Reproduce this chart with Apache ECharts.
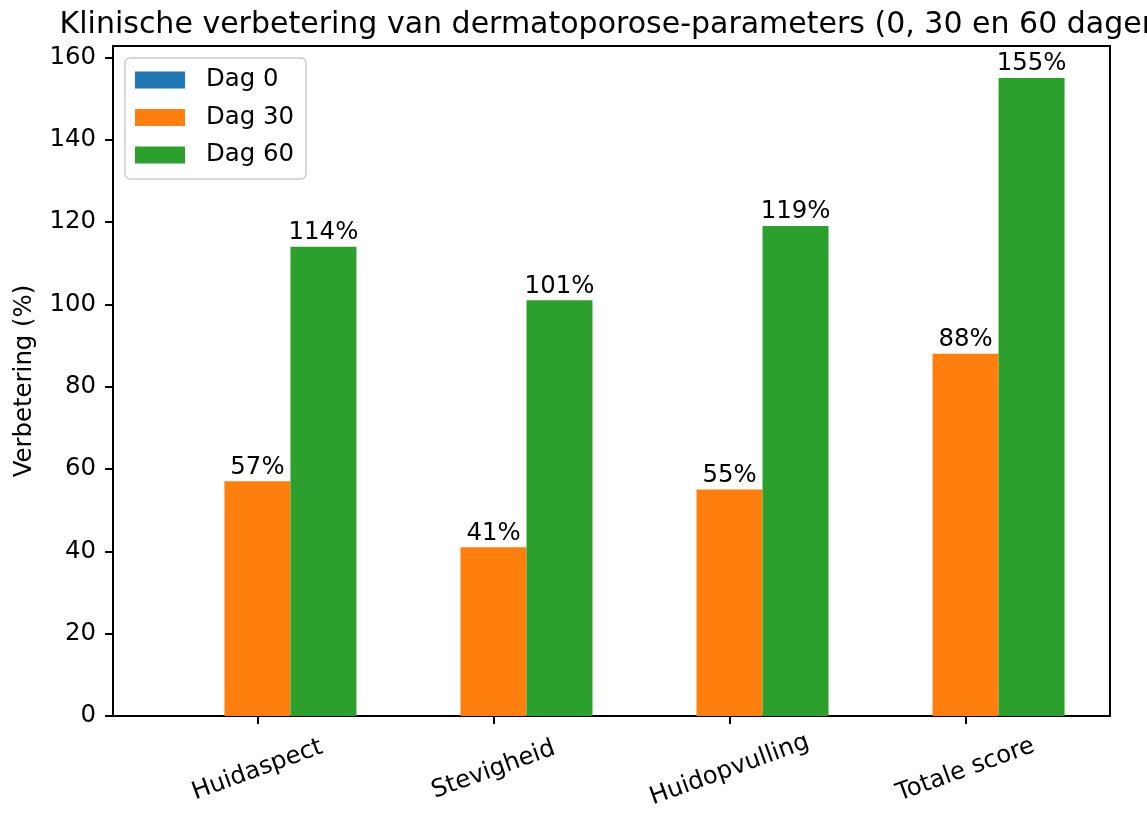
<!DOCTYPE html>
<html>
<head>
<meta charset="utf-8">
<script src="https://cdn.jsdelivr.net/npm/echarts@6/dist/echarts.min.js"></script>
<style>
  html, body { margin: 0; padding: 0; background: #fff; }
  #main { width: 1147px; height: 813px; }
</style>
</head>
<body>
<div id="main"></div>
<script>
  // categorieën en waarden
  var categories = ['Huidaspect', 'Stevigheid', 'Huidopvulling', 'Totale score'];
  var seriesNames = ['Dag 0', 'Dag 30', 'Dag 60'];
  var dag0 = [0, 0, 0, 0];
  var dag30 = [57, 41, 55, 88];
  var dag60 = [114, 101, 119, 155];
  var yTicks = [0, 20, 40, 60, 80, 100, 120, 140, 160];
  var xTicks = [0, 1, 2, 3];

  var font = 'DejaVu Sans';
  var fs = 24.4;
  var chart = echarts.init(document.getElementById('main'));

  function toPairs(arr) {
    return arr.map(function (v, i) { return [i, v]; });
  }

  function barSeries(name, values, color, showLabel) {
    return {
      name: name,
      type: 'bar',
      data: toPairs(values),
      barWidth: 66,
      barGap: '0%',
      itemStyle: { color: color },
      label: {
        show: showLabel,
        position: 'top',
        distance: 2,
        color: '#000',
        fontFamily: font,
        fontSize: fs,
        formatter: function (p) { return p.value[1] + '%'; }
      }
    };
  }

  var option = {
    animation: false,
    title: {
      text: 'Klinische verbetering van dermatoporose-parameters (0, 30 en 60 dagen)',
      left: 611,
      textAlign: 'center',
      top: 5,
      textStyle: { fontFamily: font, fontSize: 30, fontWeight: 'normal', color: '#000' }
    },
    legend: {
      data: seriesNames,
      orient: 'vertical',
      left: 125,
      top: 58,
      padding: [10, 12, 12, 10],
      itemWidth: 50,
      itemHeight: 17,
      itemGap: 13.5,
      icon: 'rect',
      borderColor: '#cccccc',
      borderWidth: 1.5,
      borderRadius: 5,
      backgroundColor: 'rgba(255,255,255,0.8)',
      textStyle: { fontFamily: font, fontSize: fs, color: '#000', padding: [0, 0, 0, 16] }
    },
    grid: {
      left: 113, right: 37, top: 46, bottom: 97,
      show: true, borderColor: '#000', borderWidth: 2, backgroundColor: 'transparent'
    },
    xAxis: {
      type: 'value',
      min: -0.612,
      max: 3.612,
      axisLine: { show: true, onZero: false, lineStyle: { color: '#000', width: 2 } },
      axisTick: { show: true, customValues: xTicks, length: 8, lineStyle: { color: '#000', width: 2 } },
      axisLabel: {
        customValues: xTicks,
        rotate: 20,
        align: 'center',
        verticalAlign: 'middle',
        margin: 54,
        color: '#000',
        fontFamily: font,
        fontSize: fs,
        formatter: function (v) { return categories[Math.round(v)]; }
      },
      splitLine: { show: false }
    },
    yAxis: {
      type: 'value',
      min: 0,
      max: 162.75,
      name: 'Verbetering (%)',
      nameLocation: 'middle',
      nameGap: 76,
      nameTextStyle: { fontFamily: font, fontSize: fs, color: '#000' },
      axisLine: { show: true, onZero: false, lineStyle: { color: '#000', width: 2 } },
      axisTick: { show: true, customValues: yTicks, length: 8, lineStyle: { color: '#000', width: 2 } },
      axisLabel: { customValues: yTicks, margin: 17, color: '#000', fontFamily: font, fontSize: fs },
      splitLine: { show: false }
    },
    series: [
      barSeries('Dag 0', dag0, '#1f77b4', false),
      barSeries('Dag 30', dag30, '#ff7f0e', true),
      barSeries('Dag 60', dag60, '#2ca02c', true)
    ]
  };

  chart.setOption(option);
</script>
</body>
</html>
